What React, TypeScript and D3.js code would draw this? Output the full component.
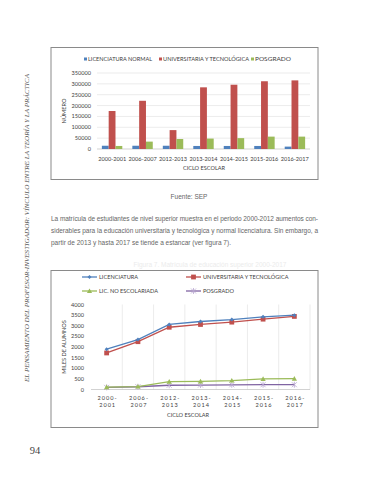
import React from 'react';
import * as d3 from 'd3';

// Figura 6: matricula por tipo (barras)
const ciclos = ['2000-2001', '2006-2007', '2012-2013', '2013-2014', '2014-2015', '2015-2016', '2016-2017'];
const licNormal = [15000, 15000, 15000, 14000, 14000, 14000, 11000];
const univTec = [175000, 222000, 87000, 284000, 296000, 312000, 316000];
const posgrado = [14000, 34000, 46000, 48000, 50000, 57000, 57000];
const barTicks = [0, 50000, 100000, 150000, 200000, 250000, 300000, 350000];

// Figura 7: miles de alumnos (lineas)
const licenciatura = [1900, 2350, 3060, 3200, 3290, 3420, 3500];
const universitaria = [1720, 2250, 2930, 3060, 3170, 3310, 3440];
const licNoEsc = [110, 140, 370, 380, 420, 500, 510];
const posgradoMiles = [100, 130, 200, 210, 220, 225, 225];
const lineTicks = [0, 500, 1000, 1500, 2000, 2500, 3000, 3500, 4000];

const BLUE = '#4F81BD';
const RED = '#C0504D';
const GREEN = '#9BBB59';
const PURPLE = '#8064A2';
const chartFont = 'Lato, "Open Sans", sans-serif';

const paragraph = [
  'La matrícula de estudiantes de nivel superior muestra en el periodo 2000-2012 aumentos con-',
  'siderables para la educación universitaria y tecnológica y normal licenciatura. Sin embargo, a',
  'partir de 2013 y hasta 2017 se tiende a estancar (ver figura 7).'
];

function BarChart() {
  const x0 = d3.scaleBand().domain(ciclos).range([97, 310]).paddingInner(0.33).paddingOuter(0.16);
  const x1 = d3.scaleBand().domain(['a', 'b', 'c']).range([0, x0.bandwidth()]);
  const y = d3.scaleLinear().domain([0, 350000]).range([149, 73]);
  const series = [
    { key: 'a', name: 'LICENCIATURA NORMAL', color: BLUE, values: licNormal, len: 64 },
    { key: 'b', name: 'UNIVERSITARIA Y TECNOLÓGICA', color: RED, values: univTec, len: 86 },
    { key: 'c', name: 'POSGRADO', color: GREEN, values: posgrado, len: 36 }
  ];
  const legendX = [84, 159, 251];
  const band = d3.scaleBand().domain(ciclos).range([97, 310]);

  return (
    <g fontFamily={chartFont} fill="#404040">
      <rect x={51} y={47.5} width={267} height={132} fill="#fff" stroke="#8a8a8a" strokeWidth={1} />
      {series.map((s, i) => (
        <g key={s.key}>
          <rect x={legendX[i]} y={57.5} width={3} height={3} fill={s.color} />
          <text x={legendX[i] + 4} y={61} fontSize={5.4} textLength={s.len} lengthAdjust="spacingAndGlyphs">{s.name}</text>
        </g>
      ))}
      {barTicks.map(t => (
        <g key={t}>
          <line x1={97} x2={310} y1={y(t)} y2={y(t)} stroke={t === 0 ? '#bfbfbf' : '#e3e3e3'} strokeWidth={0.7} />
          <text x={91} y={y(t) + 2} fontSize={5.6} textAnchor="end">{t}</text>
        </g>
      ))}
      <text transform={`translate(66,111) rotate(-90)`} fontSize={5.6} textAnchor="middle">NÚMERO</text>
      {ciclos.map((c, ci) => (
        <g key={c}>
          {series.map(s => (
            <rect key={s.key} x={x0(c)! + x1(s.key)!} y={y(s.values[ci])}
              width={x1.bandwidth()} height={y(0) - y(s.values[ci])} fill={s.color} />
          ))}
          <text x={band(c)! + band.bandwidth() / 2} y={161} fontSize={5.6} textAnchor="middle">{c}</text>
        </g>
      ))}
      <text x={204} y={170} fontSize={5.6} textAnchor="middle">CICLO ESCOLAR</text>
    </g>
  );
}

function Marker({ type, x, y, color }: { type: string; x: number; y: number; color: string }) {
  if (type === 'diamond') {
    return <path d={`M${x},${y - 2}L${x + 2},${y}L${x},${y + 2}L${x - 2},${y}Z`} fill={color} />;
  }
  if (type === 'square') {
    return <rect x={x - 2.4} y={y - 2.4} width={4.8} height={4.8} fill={color} />;
  }
  if (type === 'triangle') {
    return <path d={`M${x},${y - 2.6}L${x + 2.6},${y + 2}L${x - 2.6},${y + 2}Z`} fill={color} />;
  }
  return (
    <path d={`M${x - 2.5},${y - 2.5}L${x + 2.5},${y + 2.5}M${x + 2.5},${y - 2.5}L${x - 2.5},${y + 2.5}M${x},${y - 3}L${x},${y + 3}`}
      stroke="#b7a6cf" strokeWidth={0.8} fill="none" />
  );
}

function LineChart() {
  const x = d3.scaleBand().domain(ciclos).range([91, 310]);
  const y = d3.scaleLinear().domain([0, 4000]).range([389.5, 304.5]);
  const cx = (c: string) => x(c)! + x.bandwidth() / 2;
  const line = d3.line<number>().x((_, i) => cx(ciclos[i])).y(d => y(d));
  const series = [
    { name: 'LICENCIATURA', color: BLUE, values: licenciatura, marker: 'diamond' },
    { name: 'UNIVERSITARIA Y TECNOLÓGICA', color: RED, values: universitaria, marker: 'square' },
    { name: 'LIC. NO ESCOLARIADA', color: GREEN, values: licNoEsc, marker: 'triangle' },
    { name: 'POSGRADO', color: PURPLE, values: posgradoMiles, marker: 'star' }
  ];
  const legendPos = [[82, 277], [186, 277], [82, 291], [186, 291]];

  return (
    <g fontFamily={chartFont} fill="#404040">
      <rect x={51} y={270.5} width={267} height={157} fill="#fff" stroke="#8a8a8a" strokeWidth={1} />
      {series.map((s, i) => (
        <g key={s.name}>
          <line x1={legendPos[i][0]} x2={legendPos[i][0] + 15} y1={legendPos[i][1]} y2={legendPos[i][1]} stroke={s.color} strokeWidth={1.3} />
          <Marker type={s.marker} x={legendPos[i][0] + 7.5} y={legendPos[i][1]} color={s.color} />
          <text x={legendPos[i][0] + 17} y={legendPos[i][1] + 2} fontSize={5.6}>{s.name}</text>
        </g>
      ))}
      {ciclos.map(c => (
        <line key={c} x1={x(c)! + x.bandwidth()} x2={x(c)! + x.bandwidth()} y1={304.5} y2={389.5} stroke="#e3e3e3" strokeWidth={0.7} />
      ))}
      <line x1={91} x2={310} y1={y(0)} y2={y(0)} stroke="#bfbfbf" strokeWidth={0.7} />
      {lineTicks.map(t => (
        <text key={t} x={84} y={y(t) + 2} fontSize={5.6} textAnchor="end">{t}</text>
      ))}
      <text transform={`translate(66,347) rotate(-90)`} fontSize={5.6} textAnchor="middle">MILES DE ALUMNOS</text>
      {ciclos.map(c => {
        const [a, b] = c.split('-');
        return (
          <text key={c} x={cx(c) + 1} fontSize={5.6} textAnchor="middle" letterSpacing={1}>
            <tspan x={cx(c) + 1} y={400}>{a}-</tspan>
            <tspan x={cx(c) + 1} y={407}>{b}</tspan>
          </text>
        );
      })}
      <text x={188} y={417} fontSize={5.6} textAnchor="middle">CICLO ESCOLAR</text>
      {[...series].reverse().map(s => (
        <g key={s.name}>
          <path d={line(s.values)!} fill="none" stroke={s.color} strokeWidth={1.3} />
          {s.values.map((v, i) => (
            <Marker key={i} type={s.marker} x={cx(ciclos[i])} y={y(v)} color={s.color} />
          ))}
        </g>
      ))}
    </g>
  );
}

export default function App() {
  return (
    <svg width={370} height={480} style={{ position: 'absolute', left: 0, top: 0, background: '#fff' }}>
      <rect width={370} height={480} fill="#fff" />
      <text transform="translate(29,228) rotate(-90)" fontFamily='"Liberation Serif", serif' fontStyle="italic"
        fontSize={6.4} fill="#555" textAnchor="middle" textLength={308} lengthAdjust="spacingAndGlyphs">
        EL PENSAMIENTO DEL PROFESOR-INVESTIGADOR: VÍNCULO ENTRE LA TEORÍA Y LA PRÁCTICA
      </text>
      <BarChart />
      <text x={189} y={199} fontFamily='"Liberation Sans", sans-serif' fontSize={6.5} fill="#666" textAnchor="middle">Fuente: SEP</text>
      {paragraph.map((p, i) => (
        <text key={i} x={51} y={221 + i * 12} fontFamily='"Liberation Sans", sans-serif' fontSize={6.5} fill="#666"
          textLength={i < 2 ? 267 : undefined} lengthAdjust="spacing">{p}</text>
      ))}
      <text x={210} y={267} fontFamily='"Liberation Sans", sans-serif' fontSize={6.5} fill="#ebebeb" textAnchor="middle">
        Figura 7. Matrícula de educación superior 2000-2017
      </text>
      <LineChart />
      <text x={35} y={454} fontFamily='"Liberation Serif", serif' fontSize={10.5} fill="#444" textAnchor="middle">94</text>
    </svg>
  );
}
